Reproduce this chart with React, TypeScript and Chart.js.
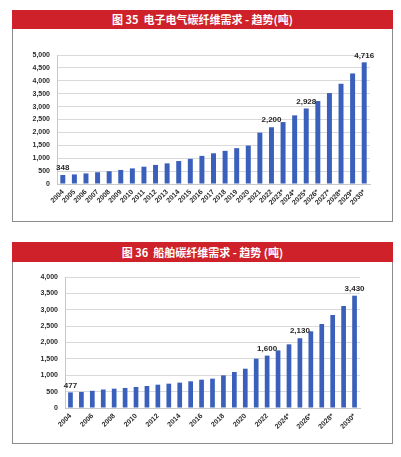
import React, { useEffect, useRef } from "react";
import { Chart, registerables } from "chart.js";

Chart.register(...registerables);

const years = [
  "2004", "2005", "2006", "2007", "2008", "2009", "2010", "2011", "2012",
  "2013", "2014", "2015", "2016", "2017", "2018", "2019", "2020", "2021",
  "2022", "2023*", "2024*", "2025*", "2026*", "2027*", "2028*", "2029*", "2030*",
];

const title1 = "图 35  电子电气碳纤维需求 - 趋势(吨)";
const values1 = [
  348, 370, 410, 455, 495, 545, 605, 670, 740, 800, 890, 975, 1090, 1190,
  1285, 1390, 1490, 1990, 2200, 2400, 2660, 2928, 3215, 3525, 3885, 4285, 4716,
];
const labeled1 = [0, 18, 21, 26];
const yMax1 = 5000;

const title2 = "图 36  船舶碳纤维需求 - 趋势 (吨)";
const values2 = [
  477, 490, 525, 565, 590, 612, 642, 672, 712, 743, 775, 815, 865, 896,
  997, 1100, 1200, 1506, 1600, 1760, 1944, 2130, 2341, 2565, 2840, 3114, 3430,
];
const labeled2 = [0, 18, 21, 26];
const yMax2 = 4000;

const yStep = 500;

const BAR_COLOR = "#3a60bc";
const RED = "#cf2129";
const FONT = '"Liberation Sans", Arial, sans-serif';

const valueLabels = {
  id: "valueLabels",
  afterDatasetsDraw(chart: any, _args: any, opts: any) {
    const { ctx } = chart;
    const meta = chart.getDatasetMeta(0);
    ctx.save();
    ctx.font = `bold 8px ${FONT}`;
    ctx.fillStyle = "#262626";
    ctx.textAlign = "center";
    ctx.textBaseline = "bottom";
    (opts.indices || []).forEach((i: number) => {
      const el = meta.data[i];
      const v = chart.data.datasets[0].data[i];
      ctx.fillText(Number(v).toLocaleString("en-US"), el.x, el.y - 3);
    });
    ctx.restore();
  },
};

type ChartProps = {
  top: number;
  height: number;
  labels: string[];
  values: number[];
  labeled: number[];
  yMax: number;
  padTop: number;
  padRight: number;
  yWidth: number;
  xHeight: number;
  everyOther: boolean;
};

function BarChart(p: ChartProps) {
  const ref = useRef<HTMLCanvasElement>(null);
  useEffect(() => {
    if (!ref.current) return;
    const chart = new Chart(ref.current, {
      type: "bar",
      data: {
        labels: p.labels,
        datasets: [
          {
            data: p.values,
            backgroundColor: BAR_COLOR,
            barPercentage: 0.5,
            categoryPercentage: 0.86,
          },
        ],
      },
      options: {
        responsive: false,
        animation: false,
        layout: { padding: { top: p.padTop, right: p.padRight, left: 0, bottom: 0 } },
        plugins: {
          legend: { display: false },
          tooltip: { enabled: false },
          valueLabels: { indices: p.labeled },
        } as any,
        scales: {
          x: {
            grid: { display: false, drawTicks: false },
            border: { display: true, color: "#c8c8c8" },
            ticks: {
              autoSkip: false,
              minRotation: 45,
              maxRotation: 45,
              padding: 4,
              color: "#2b2b2b",
              font: { family: FONT, size: 7, weight: "bold" },
              callback: (_v: any, idx: number) =>
                p.everyOther ? (idx % 2 === 0 ? p.labels[idx] : "") : p.labels[idx],
            },
            afterFit: (scale: any) => {
              scale.height = p.xHeight;
            },
          },
          y: {
            min: 0,
            max: p.yMax,
            grid: { color: "#d9d9d9", drawTicks: false },
            border: { display: true, color: "#c8c8c8" },
            ticks: {
              stepSize: yStep,
              padding: 7,
              color: "#2b2b2b",
              font: { family: FONT, size: 7, weight: "bold" },
              callback: (v: any) => Number(v).toLocaleString("en-US"),
            },
            afterFit: (scale: any) => {
              scale.width = p.yWidth;
            },
          },
        },
      } as any,
      plugins: [valueLabels as any],
    });
    return () => chart.destroy();
  }, []);
  return (
    <canvas
      ref={ref}
      width={401}
      height={p.height}
      style={{ position: "absolute", left: 0, top: p.top, width: 401, height: p.height }}
    />
  );
}

function Frame(props: { top: number; bottom: number; titleH: number; title: string }) {
  return (
    <>
      <div
        style={{
          position: "absolute",
          left: 12,
          top: props.top,
          width: 381,
          height: props.bottom - props.top,
          boxSizing: "border-box",
          border: "1px solid #8c8c8c",
          background: "#fff",
        }}
      />
      <div
        style={{
          position: "absolute",
          left: 12,
          top: props.top,
          width: 381,
          height: props.titleH,
          background: RED,
          color: "#fff",
          fontFamily: '"Noto Sans CJK SC", "Noto Sans", sans-serif',
          fontWeight: "bold",
          fontSize: 11,
          lineHeight: `${props.titleH}px`,
          textAlign: "center",
          whiteSpace: "pre",
        }}
      >
        {props.title}
      </div>
    </>
  );
}

export default function App() {
  return (
    <div style={{ position: "absolute", left: 0, top: 0, width: 401, height: 457, background: "#fff" }}>
      <Frame top={10} bottom={222} titleH={19} title={title1} />
      <Frame top={242} bottom={444} titleH={20} title={title2} />
      <BarChart
        top={0}
        height={225}
        labels={years}
        values={values1}
        labeled={labeled1}
        yMax={yMax1}
        padTop={55}
        padRight={31}
        yWidth={57}
        xHeight={41}
        everyOther={false}
      />
      <BarChart
        top={232}
        height={225}
        labels={years}
        values={values2}
        labeled={labeled2}
        yMax={yMax2}
        padTop={45}
        padRight={41}
        yWidth={65}
        xHeight={49}
        everyOther={true}
      />
    </div>
  );
}
